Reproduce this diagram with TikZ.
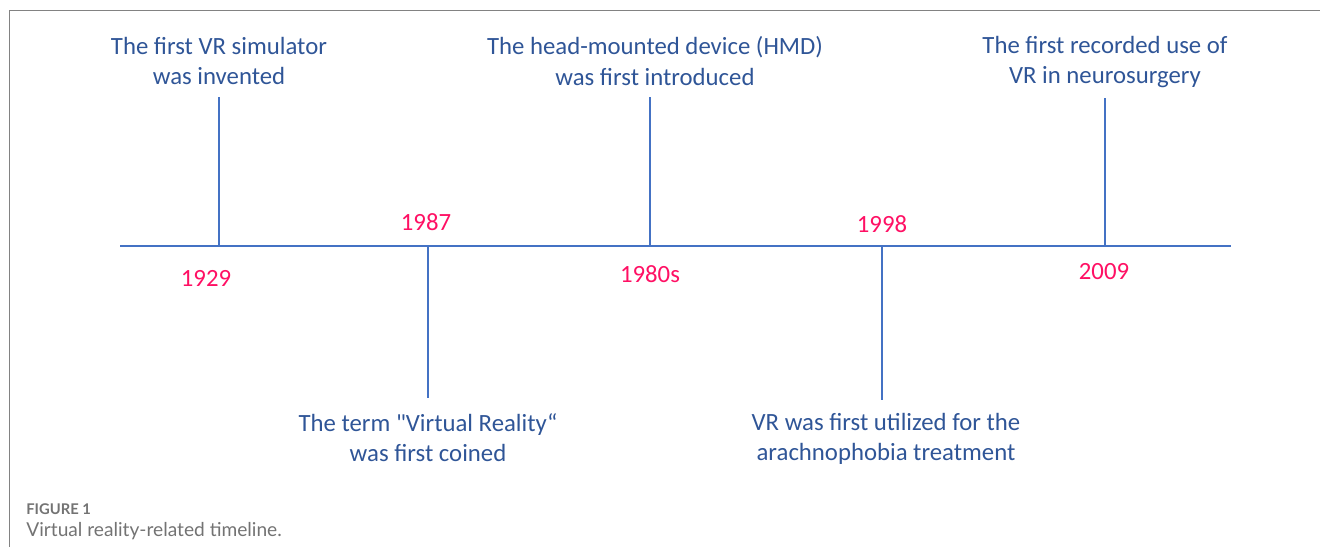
\documentclass[tikz,border=0pt]{standalone}
\usepackage{fontspec}
\setmainfont{Carlito}
\newfontfamily\capfont{Lato}
\usepackage{tikz}
\usetikzlibrary{positioning}

\definecolor{axisblue}{RGB}{68,114,196}
\definecolor{textblue}{RGB}{47,85,151}
\definecolor{yearpink}{RGB}{255,16,100}
\definecolor{framegray}{RGB}{130,130,130}
\definecolor{capgray}{RGB}{115,115,115}

\begin{document}
\begin{tikzpicture}[x=0.02cm,y=-0.02cm,line cap=butt,
  event/.style={align=center,text=textblue,inner sep=0pt,font=\fontsize{14.1}{17.2}\selectfont},
  year/.style={text=yearpink,inner sep=0pt,font=\fontsize{14.1}{17.2}\selectfont},
  tick/.style={draw=axisblue,line width=1.1pt}]
\useasboundingbox (0,0) rectangle (1320,547);
% frame
\draw[framegray,line width=0.6pt] (9.5,547) -- (9.5,10.5) -- (1320,10.5);
% axis
\coordinate (axl) at (120,246);
\coordinate (axr) at (1231,246);
\draw[tick] (axl) -- (axr);
% events above
\coordinate (t1929) at (219,246);
\coordinate (e1929top) at (219,97);
\draw[tick] (t1929) -- (e1929top);
\node[event] (e1929) at (219,61) {The first VR simulator\\was invented};
\node[year] (y1929) at (206,278) {1929};
\coordinate (t1980) at (650,246);
\coordinate (e1980top) at (650,97);
\draw[tick] (t1980) -- (e1980top);
\node[event] (e1980) at (655,61) {The head-mounted device (HMD)\\was first introduced};
\node[year] (y1980) at (650,274) {1980s};
\coordinate (t2009) at (1105,246);
\coordinate (e2009top) at (1105,98);
\draw[tick,line width=0.7pt] (t2009) -- (e2009top);
\node[event] (e2009) at (1105,62) {The first recorded use of\\VR in neurosurgery};
\node[year] (y2009) at (1104,272) {2009};
% events below
\coordinate (t1987) at (428,246);
\coordinate (e1987bot) at (428,398);
\draw[tick] (t1987) -- (e1987bot);
\node[event] (e1987) at (428,438) {The term {\addfontfeatures{Ligatures=TeXOff}"}Virtual Reality“\\was first coined};
\node[year] (y1987) at (426,222) {1987};
\coordinate (t1998) at (882,246);
\coordinate (e1998bot) at (882,400);
\draw[tick] (t1998) -- (e1998bot);
\node[event] (e1998) at (886,439) {VR was first utilized for the\\arachnophobia treatment};
\node[year] (y1998) at (882,224) {1998};
% caption
\node[anchor=base west,inner sep=0pt,text=capgray,font=\capfont\bfseries\fontsize{8.4}{9}\selectfont] (fig) at (26,515) {FIGURE 1};
\node[anchor=base west,inner sep=0pt,text=capgray,font=\capfont\fontsize{10.9}{12}\selectfont] (cap) at (26,537) {Virtual reality-related timeline.};
\end{tikzpicture}
\end{document}
